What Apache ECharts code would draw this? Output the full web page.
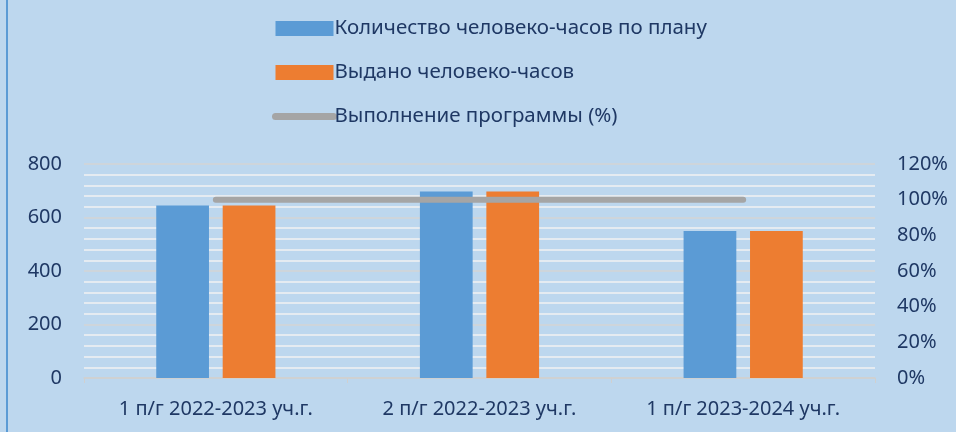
<!DOCTYPE html>
<html><head><meta charset="utf-8">
<script src="https://cdn.jsdelivr.net/npm/echarts@6/dist/echarts.min.js"></script>
<style>html,body{margin:0;padding:0;background:#bdd7ee}#c{width:956px;height:432px}</style>
</head><body><div id="c"></div>
<script>
const categories = ['1 п/г 2022-2023 уч.г.', '2 п/г 2022-2023 уч.г.', '1 п/г 2023-2024 уч.г.'];
const planHours = [645, 697, 550];
const issuedHours = [645, 697, 550];
const completion = [100, 100, 100];
const seriesNames = ['Количество человеко-часов по плану', 'Выдано человеко-часов', 'Выполнение программы (%)'];

const FONT = '"Noto Sans", sans-serif';
const TXT = '#1f3864';
const chart = echarts.init(document.getElementById('c'));
chart.setOption({
  backgroundColor: '#bdd7ee',
  animation: false,
  textStyle: { fontFamily: FONT },
  graphic: [{ type: 'rect', left: 6, top: 0, shape: { width: 2, height: 432 }, style: { fill: '#5b9bd5' } }],
  legend: {
    orient: 'vertical', left: 267, top: 13, itemWidth: 58, itemHeight: 15, itemGap: 23,
    textStyle: { fontFamily: FONT, fontSize: 20.5, color: TXT, padding: [0, 0, 0, -4] },
    data: [
      { name: seriesNames[0], icon: 'rect' },
      { name: seriesNames[1], icon: 'rect' },
      { name: seriesNames[2], itemStyle: { opacity: 0 }, lineStyle: { width: 7, cap: 'round', color: '#a5a5a5' } }
    ]
  },
  grid: { left: 84, right: 81, top: 164, bottom: 54 },
  xAxis: {
    type: 'category', data: categories,
    axisLine: { lineStyle: { color: '#d0d0d0', width: 1.5 } },
    axisTick: { show: true, length: 5, lineStyle: { color: '#d0d0d0' } },
    axisLabel: { fontFamily: FONT, fontSize: 20, color: TXT, margin: 21 }
  },
  yAxis: [{
    type: 'value', min: 0, max: 800, interval: 200,
    axisLabel: { fontFamily: FONT, fontSize: 20, color: TXT, margin: 22 },
    axisLine: { show: false }, axisTick: { show: false },
    splitLine: { lineStyle: { color: '#d4d4d4', width: 1.5 } },
    minorTick: { show: false, splitNumber: 5 },
    minorSplitLine: { show: true, lineStyle: { color: '#f2f2f2', width: 1.5 } }
  }, {
    type: 'value', min: 0, max: 120, interval: 20,
    axisLabel: { fontFamily: FONT, fontSize: 20, color: TXT, margin: 22, formatter: '{value}%' },
    axisLine: { show: false }, axisTick: { show: false }, splitLine: { show: false }
  }],
  series: [{
    name: seriesNames[0], type: 'bar', data: planHours, barWidth: '20%', barGap: '26%',
    itemStyle: { color: '#5b9bd5' }
  }, {
    name: seriesNames[1], type: 'bar', data: issuedHours, barWidth: '20%',
    itemStyle: { color: '#ed7d31' }
  }, {
    name: seriesNames[2], type: 'line', yAxisIndex: 1, data: completion,
    symbol: 'none', lineStyle: { color: '#a5a5a5', width: 6, cap: 'round' },
    itemStyle: { color: '#a5a5a5' }
  }]
});
</script></body></html>
